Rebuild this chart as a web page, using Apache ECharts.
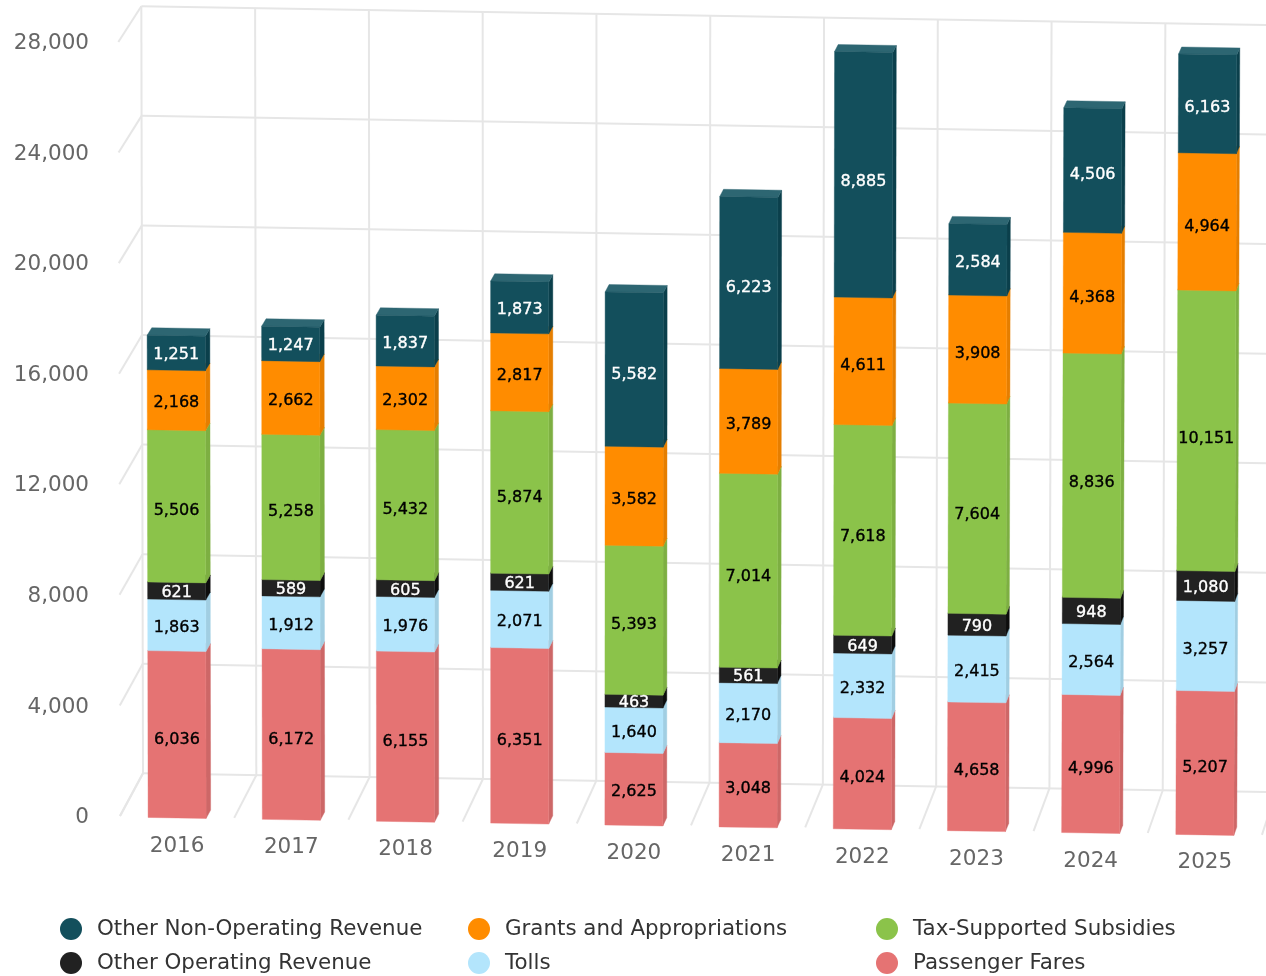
<!DOCTYPE html>
<html><head><meta charset="utf-8">
<style>html,body{margin:0;padding:0;background:#fff;overflow:hidden}#c{width:1266px;height:976px}</style>
<script src="https://cdn.jsdelivr.net/npm/echarts@6/dist/echarts.min.js"></script>
</head><body><div id="c"></div>
<script>
const years=['2016','2017','2018','2019','2020','2021','2022','2023','2024','2025'];
const yTicks=[0,4000,8000,12000,16000,20000,24000,28000];
const yMax=28000;
const clipMax=28235;
const passengerFares=[6036,6172,6155,6351,2625,3048,4024,4658,4996,5207];
const tolls=[1863,1912,1976,2071,1640,2170,2332,2415,2564,3257];
const otherOperating=[621,589,605,621,463,561,649,790,948,1080];
const taxSubsidies=[5506,5258,5432,5874,5393,7014,7618,7604,8836,10151];
const grants=[2168,2662,2302,2817,3582,3789,4611,3908,4368,4964];
const otherNonOperating=[1251,1247,1837,1873,5582,6223,8885,2584,4506,6163];

const FONT='"DejaVu Sans"';
const stack=[
 {name:'Passenger Fares',values:passengerFares,front:'#e57373',side:'#cd6767',top:'#e88181',label:'#000'},
 {name:'Tolls',values:tolls,front:'#b3e5fc',side:'#a1cee2',top:'#bbe8fc',label:'#000'},
 {name:'Other Operating Revenue',values:otherOperating,front:'#212121',side:'#0d0d0d',top:'#353535',label:'#fff'},
 {name:'Tax-Supported Subsidies',values:taxSubsidies,front:'#8bc34a',side:'#7daf42',top:'#97c95c',label:'#000'},
 {name:'Grants and Appropriations',values:grants,front:'#ff8c00',side:'#e57e00',top:'#ff9819',label:'#000'},
 {name:'Other Non-Operating Revenue',values:otherNonOperating,front:'#134f5c',side:'#0b3f4b',top:'#2d6672',label:'#fff'}
];

// The reference is a slightly rotated 3D chart. Pixels from the axes are passed through this view.
const X0=120,Y0=816,PH=774;
function view(cx,cy,d){
  const u=cx-X0,h=Y0-cy;
  const y=Y0+0.0165*u-h;
  let x=cx+(y-Y0)*(0.0028-5.35e-6*cx);
  return [x+d*(24-8*u/1028)-(d>0.5?1:0), y-d*(42.7-7*h/PH)];
}
const BAR_HALF=29,BAR_DEPTH=0.195,BAR_DROP=1;

function barRender(seriesDef){
  return function(params,api){
    const c=api.coord([api.value(0),0])[0];
    const yb=api.coord([0,Math.min(api.value(1),clipMax)])[1]+BAR_DROP;
    const yt=api.coord([0,Math.min(api.value(2),clipMax)])[1]+BAR_DROP;
    const l=c-BAR_HALF,r=c+BAR_HALF,d=BAR_DEPTH;
    const poly=(pts,fill)=>({type:'polygon',shape:{points:pts},style:{fill:fill,stroke:fill,lineWidth:0.4}});
    return {type:'group',children:[
      poly([view(r,yb,0),view(r,yb,d),view(r,yt,d),view(r,yt,0)],seriesDef.side),
      poly([view(l,yt,0),view(r,yt,0),view(r,yt,d),view(l,yt,d)],seriesDef.top),
      poly([view(l,yb,0),view(r,yb,0),view(r,yt,0),view(l,yt,0)],seriesDef.front)
    ]};
  };
}

const series=[];
// walls and floor
const GRID='#e6e6e6';
series.push({type:'custom',name:'walls',silent:true,z:1,coordinateSystem:'cartesian2d',
  data:yTicks.map(v=>[0,v]),encode:{x:0,y:1},
  renderItem(params,api){
    const y=api.coord([0,api.value(1)])[1];
    const seg=(a,b)=>({type:'line',shape:{x1:a[0],y1:a[1],x2:b[0],y2:b[1]},style:{stroke:GRID,lineWidth:2,fill:null}});
    const ch=[seg(view(X0,y,0),view(X0,y,1)),seg(view(X0,y,1),view(X0+1142,y,1))];
    return {type:'group',children:ch};
  }});
series.push({type:'custom',name:'columns',silent:true,z:1,coordinateSystem:'cartesian2d',
  data:years.map((y,i)=>[i,0]).concat([[years.length,0]]),encode:{y:1},
  renderItem(params,api){
    const i=api.value(0);
    const bw=api.size([1,0])[0];
    const x=X0+bw*i;
    const yb=Y0,yt=Y0-PH;
    const seg=(a,b,w)=>({type:'line',shape:{x1:a[0],y1:a[1],x2:b[0],y2:b[1]},style:{stroke:GRID,lineWidth:w,fill:null}});
    return {type:'group',children:[seg(view(x,yb,1),view(x,yt,1),2),seg(view(x,yb,0),view(x,yb,1),2)]};
  }});
// stacked bars
const cum=years.map(()=>0);
const labelData=[];
stack.forEach((s,si)=>{
  const data=s.values.map((v,i)=>{
    const start=cum[i];cum[i]+=v;
    labelData.push([i,start,cum[i],v,si]);
    return [i,start,cum[i],v];
  });
  series.push({type:'custom',name:s.name,z:2,coordinateSystem:'cartesian2d',
    itemStyle:{color:s.front},data:data,encode:{x:0,y:[1,2],tooltip:3},renderItem:barRender(s)});
});
// data labels
series.push({type:'custom',name:'values',silent:true,z:5,coordinateSystem:'cartesian2d',
  data:labelData,encode:{x:0,y:[1,2]},
  renderItem(params,api){
    const c=api.coord([api.value(0),0])[0];
    const yb=api.coord([0,Math.min(api.value(1),clipMax)])[1];
    const yt=api.coord([0,Math.min(api.value(2),clipMax)])[1];
    const len=yb-yt;
    const p=view(c,(yb+yt)/2+2.5+0.022*len,0);
    const s=stack[api.value(4)];
    return {type:'text',style:{x:p[0],y:p[1],text:api.value(3).toLocaleString('en-US'),
      font:'16px '+FONT,fill:s.label,stroke:s.label,lineWidth:0.35,align:'center',verticalAlign:'middle'}};
  }});
// category labels follow the rotated floor
series.push({type:'custom',name:'years',silent:true,z:5,coordinateSystem:'cartesian2d',
  data:years.map((y,i)=>[i,0]),encode:{x:0,y:1},
  renderItem(params,api){
    const c=api.coord([api.value(0),0])[0];
    const p=view(c,Y0,0);
    return {type:'text',style:{x:p[0],y:p[1]+29,text:years[api.value(0)],font:'21.5px '+FONT,fill:'#666',align:'center',verticalAlign:'middle'}};
  }});

const legendBase={orient:'vertical',top:918,height:80,icon:'circle',itemWidth:22,itemHeight:22,itemGap:12,selectedMode:false,padding:0,
  textStyle:{color:'#333',fontFamily:FONT,fontSize:21.4,padding:[0,0,0,10]}};
const option={
  animation:false,backgroundColor:'#fff',
  grid:{left:X0,top:Y0-PH,width:1142,height:PH,containLabel:false},
  xAxis:{type:'category',data:years,axisLine:{show:false},axisTick:{show:false},axisLabel:{show:false},splitLine:{show:false}},
  yAxis:{type:'value',min:0,max:yMax,interval:4000,axisLine:{show:false},axisTick:{show:false},splitLine:{show:false},
    axisLabel:{margin:31,color:'#666',fontFamily:FONT,fontSize:21.5,
      formatter:v=>'{n|'+v.toLocaleString('en-US')+'}',
      rich:{n:{color:'#666',fontFamily:FONT,fontSize:21.5,padding:[3,0,0,0]}}}},
  legend:[
    Object.assign({},legendBase,{left:60,data:['Other Non-Operating Revenue','Other Operating Revenue']}),
    Object.assign({},legendBase,{left:468,data:['Grants and Appropriations','Tolls']}),
    Object.assign({},legendBase,{left:876,data:['Tax-Supported Subsidies','Passenger Fares']})
  ],
  series:series
};
const chart=echarts.init(document.getElementById('c'),null,{renderer:'canvas'});
chart.setOption(option);
</script></body></html>
